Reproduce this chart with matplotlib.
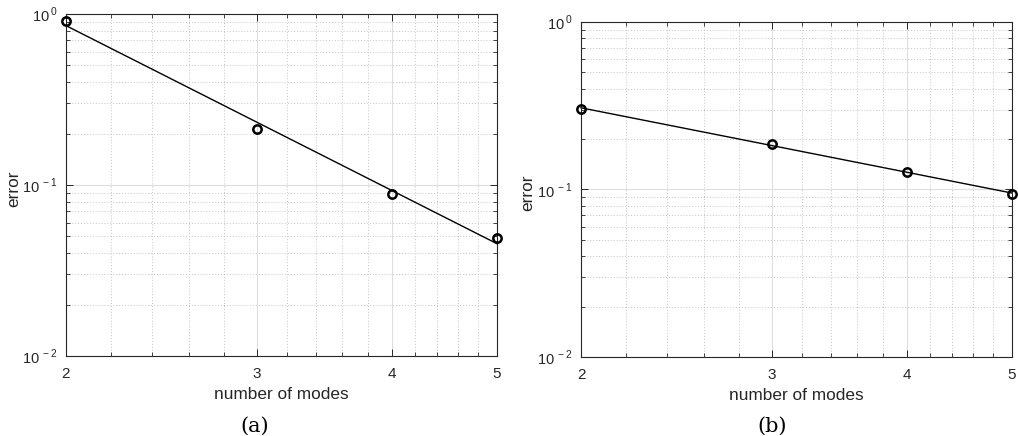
import numpy as np
import matplotlib
matplotlib.use('Agg')
import matplotlib.pyplot as plt
from matplotlib import ticker

plt.rcParams['font.family'] = ['Liberation Sans', 'DejaVu Sans']
plt.rcParams['mathtext.fontset'] = 'custom'
plt.rcParams['mathtext.rm'] = 'Liberation Sans'

# number of modes and measured errors for the two cases
modes = [2, 3, 4, 5]
err_a = [0.91, 0.213, 0.0883, 0.049]
err_b = [0.303, 0.187, 0.128, 0.0936]
captions = ["(a)", "(b)"]

fig = plt.figure(figsize=(10.18, 4.36), dpi=100)
W, H = 1018, 436
# axes boxes in pixels: left, top, right, bottom
boxes = [(66, 14, 497, 356), (581, 22, 1012, 357)]
cap_x = [255, 772]
ylab_x = [21, 535]   # right edge of the rotated "error" label, pixels


def style(ax):
    ax.set_xscale('log')
    ax.set_yscale('log')
    ax.set_xlim(2, 5)
    ax.set_ylim(1e-2, 1)
    ax.xaxis.set_major_locator(ticker.FixedLocator([2, 3, 4, 5]))
    ax.xaxis.set_major_formatter(ticker.FixedFormatter(["2", "3", "4", "5"]))
    ax.xaxis.set_minor_locator(ticker.MultipleLocator(0.2))
    ax.xaxis.set_minor_formatter(ticker.NullFormatter())
    ax.yaxis.set_major_locator(ticker.FixedLocator([1e-2, 1e-1, 1]))
    ax.yaxis.set_major_formatter(ticker.FixedFormatter(
        [r"$10^{\,-2}$", r"$10^{\,-1}$", r"$10^{\,0}$"]))
    ax.yaxis.set_minor_locator(ticker.LogLocator(base=10, subs=np.arange(2, 10)))
    ax.yaxis.set_minor_formatter(ticker.NullFormatter())
    ax.grid(which='major', color='#dedede', linestyle='-', linewidth=0.8)
    ax.grid(which='minor', color='#c4c4c4', linestyle=(0, (1, 2)), linewidth=0.7)
    ax.set_axisbelow(True)
    ax.tick_params(which='both', direction='in', top=True, right=True,
                   color='#262626', labelcolor='#262626')
    ax.tick_params(which='major', length=5, width=0.7)
    ax.tick_params(which='minor', length=3, width=0.6)
    ax.tick_params(axis='x', which='major', pad=8, labelsize=11)
    ax.tick_params(axis='y', which='major', pad=6.5, labelsize=10.5)
    for s in ax.spines.values():
        s.set_color('#262626')
        s.set_linewidth(0.8)
    ax.set_xlabel("number of modes", fontsize=12.4, color='#262626', labelpad=4)
    ax.set_ylabel("error", fontsize=12.4, color='#262626')


for (l, t, r, b), err, cap, cx, yx in zip(boxes, [err_a, err_b], captions,
                                          cap_x, ylab_x):
    ax = fig.add_axes([l / W, 1 - b / H, (r - l) / W, (b - t) / H])
    style(ax)
    ax.yaxis.set_label_coords((yx - l) / (r - l), 0.49)
    # least-squares power-law fit through the points
    p = np.polyfit(np.log10(modes), np.log10(err), 1)
    xf = np.array([modes[0], modes[-1]])
    ax.plot(xf, 10 ** np.polyval(p, np.log10(xf)), color='black', linewidth=1.0,
            clip_on=False)
    ax.plot(modes, err, linestyle='none', marker='o', markersize=6,
            markerfacecolor='none', markeredgecolor='black', markeredgewidth=1.8,
            clip_on=False, zorder=5)
    fig.text(cx / W, 1 - 426 / H, cap, ha='center', va='center', fontsize=15,
             family='DejaVu Serif')

fig.savefig("out.png", dpi=100)
